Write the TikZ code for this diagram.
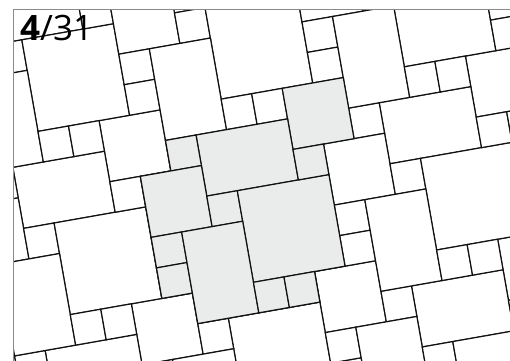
\documentclass[tikz,border=0pt]{standalone}
\usepackage{fontspec}
\newfontfamily\slidefont{Open Sans}
\definecolor{pvInk}{HTML}{111111}
\definecolor{pvStone}{HTML}{EAECEC}
\definecolor{pvFrame}{HTML}{8A8A8A}
\tikzset{
 paving/.style={x=1pt,y=1pt,line join=miter},
 slab/.style={draw=pvInk,fill=white,line width=1.2pt},
 coreslab/.style={slab,fill=pvStone},
 framebox/.style={draw=pvFrame,line width=.9pt},
 slidenum/.style={font=\slidefont\fontsize{35}{35}\selectfont,anchor=base west,inner sep=0pt,text=black}
}
% one 6x6 repeat of the paving, in slab units
\newcommand{\pavingRepeat}[1]{%
 \draw[#1] (2,1) rectangle (4,3);   \draw[#1] (-1,0) rectangle (2,2);
 \draw[#1] (-2,1) rectangle (-1,2); \draw[#1] (-3,-1) rectangle (-1,1);
 \draw[#1] (-1,-1) rectangle (0,0); \draw[#1] (0,-3) rectangle (3,0);
 \draw[#1] (2,0) rectangle (3,1);   \draw[#1] (-3,-2) rectangle (-2,-1);
 \draw[#1] (-3,-3) rectangle (-2,-2); \draw[#1] (-2,-4) rectangle (0,-1);
 \draw[#1] (0,-4) rectangle (1,-3); \draw[#1] (1,-4) rectangle (2,-3);}

\begin{document}
\begin{tikzpicture}[paving]
 \useasboundingbox (0,0) rectangle (510,360);
 \begin{scope}
  \clip (13,-10) rectangle (530,351);
  \begin{scope}[shift={(237.3,169.3)},rotate=10,scale=31]
   \foreach \i in {-2,...,2}{
    \foreach \j in {-2,...,2}{
     \begin{scope}[shift={(6*\i,6*\j)}]
      \pavingRepeat{slab}
     \end{scope}}}
   \pavingRepeat{coreslab}
  \end{scope}
 \end{scope}
 \draw[framebox] (13,-10) rectangle (530,351);
 \node[slidenum] (slidenum) at (20,320) {{\bfseries 4}/31};
\end{tikzpicture}
\end{document}
